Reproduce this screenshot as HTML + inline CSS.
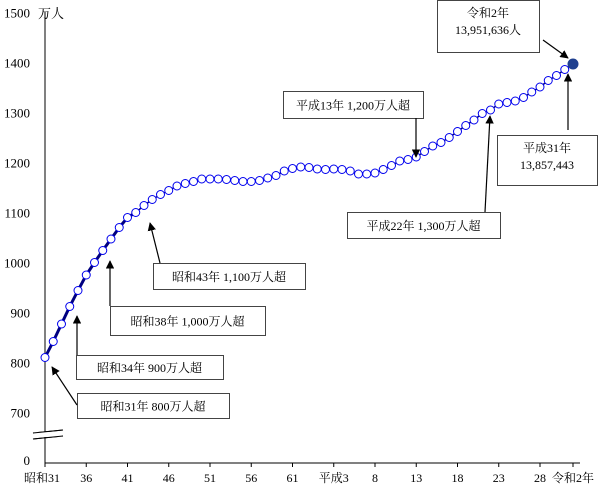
<!DOCTYPE html>
<html><head><meta charset="utf-8"><style>
html,body{margin:0;padding:0;background:#fff;}
svg{display:block;font-family:"Liberation Serif","Noto Serif CJK SC",serif;}
</style></head><body>
<svg id="chart" width="600" height="488" viewBox="0 0 600 488" xmlns="http://www.w3.org/2000/svg">
<defs><marker id="ah" viewBox="0 0 10 10" refX="9" refY="5" markerWidth="7" markerHeight="7" orient="auto"><path d="M0,0L10,5L0,10z" fill="#000"/></marker></defs>
<g id="axes"></g>
<g id="series"></g>
<g id="notes"></g>
</svg>
<script>
const years = [];for(let y=1956;y<=2020;y++)years.push(y);
const population = [810,842,877,912,944,975,1000,1024,1047,1070,1090,1100,1114,1126,1136,1144,1153,1158,1162,1167,1167,1167,1166,1164,1162,1162,1164,1169,1174,1183,1188,1191,1190,1187,1186,1187,1186,1183,1177,1177,1179,1186,1194,1203,1206,1211,1222,1233,1240,1250,1262,1274,1285,1298,1305,1317,1320,1323,1330,1341,1351,1364,1374,1386,1397];
const yTicks = [700,800,900,1000,1100,1200,1300,1400,1500];
const xTickYears = [1956,1961,1966,1971,1976,1981,1986,1991,1996,2001,2006,2011,2016,2020];
const xTickLabels = ["昭和31","36","41","46","51","56","61","平成3","8","13","18","23","28","令和2年"];
const NS="http://www.w3.org/2000/svg";
function X(yr){return 45+(yr-1956)*8.25;}
function Y(v){return 262.5+(1000-v)*0.5;}
function mk(tag,at,parent){const e=document.createElementNS(NS,tag);for(const k in at)e.setAttribute(k,at[k]);parent.appendChild(e);return e;}
const axes=document.getElementById('axes'),series=document.getElementById('series'),notes=document.getElementById('notes');
let e=mk('line',{x1:45,y1:12,x2:45,y2:463,stroke:'#000','stroke-width':1},axes);


e=mk('line',{x1:45,y1:463,x2:580,y2:463,stroke:'#000','stroke-width':1},axes);


e=mk('path',{d:'M33,433L63,430M33,439L63,436',stroke:'#000',fill:'none'},axes);


mk('rect',{x:34,y:432,width:28,height:5,fill:'#fff'},axes);
mk('path',{d:'M33,433L63,430M33,439L63,436',stroke:'#000',fill:'none'},axes);
yTicks.forEach(v=>{const t=mk('text',{x:30,y:Y(v)+5,'text-anchor':'end','font-size':13},axes);t.textContent=v;

});
e=mk('text',{x:30,y:465,'text-anchor':'end','font-size':13},axes);e.textContent='0';


e=mk('text',{x:38,y:18,'font-size':13},axes);e.textContent='万人';


xTickYears.forEach((yr,i)=>{mk('line',{x1:X(yr),y1:463,x2:X(yr),y2:467,stroke:'#000'},axes);
const t=mk('text',{x:i==0?22:X(yr),y:482,'text-anchor':i==0?'start':'middle','font-size':12},axes);
if(i==0)t.setAttribute('x',24);
t.textContent=xTickLabels[i];

});
// line
let d1='',d2='';
years.forEach((yr,i)=>{const p=X(yr)+','+Y(population[i]);if(i<=11)d1+=(i?'L':'M')+p;if(i>=11)d2+=(i>11?'L':'M')+p;});
e=mk('path',{d:d1,stroke:'#000080','stroke-width':3,fill:'none'},series);


e=mk('path',{d:d2,stroke:'#000080','stroke-width':1.5,fill:'none'},series);


years.forEach((yr,i)=>{const last=i==years.length-1;
const c=mk('circle',{cx:X(yr),cy:Y(population[i]),r:last?5:4,fill:last?'#1f3f8f':'#fff',stroke:last?'#1f3f8f':'#0000ee','stroke-width':1},series);

});
// annotations
const boxes=[
[77,393,152,25,['昭和31年 800万人超'],[77,405,52,367]],
[76,355,147,24,['昭和34年 900万人超'],[77,355,77,316]],
[110,306,155,29,['昭和38年 1,000万人超'],[110,306,110,261]],
[153,263,152,26,['昭和43年 1,100万人超'],[160,263,150,223]],
[283,91,140,27,['平成13年 1,200万人超'],[416,118,416,157]],
[347,212,153,26,['平成22年 1,300万人超'],[485,212,490,116]],
[437,0,102,52,['令和2年','13,951,636人'],[543,40,568,58]],
[497,135,100,50,['平成31年','13,857,443'],[568,130,568,74]]];
boxes.forEach(b=>{const g=mk('g',{},notes);


mk('rect',{x:b[0]+.5,y:b[1]+.5,width:b[2],height:b[3],fill:'#fff',stroke:'#444'},g);
const lines=b[4];lines.forEach((s,j)=>{const t=mk('text',{x:b[0]+b[2]/2,y:b[1]+(lines.length==1?b[3]/2+5:17+j*17),'text-anchor':'middle','font-size':12},g);t.textContent=s;});
const a=b[5];mk('line',{x1:a[0],y1:a[1],x2:a[2],y2:a[3],stroke:'#000','stroke-width':1.2,'marker-end':'url(#ah)'},g);});
</script>
</body></html>
